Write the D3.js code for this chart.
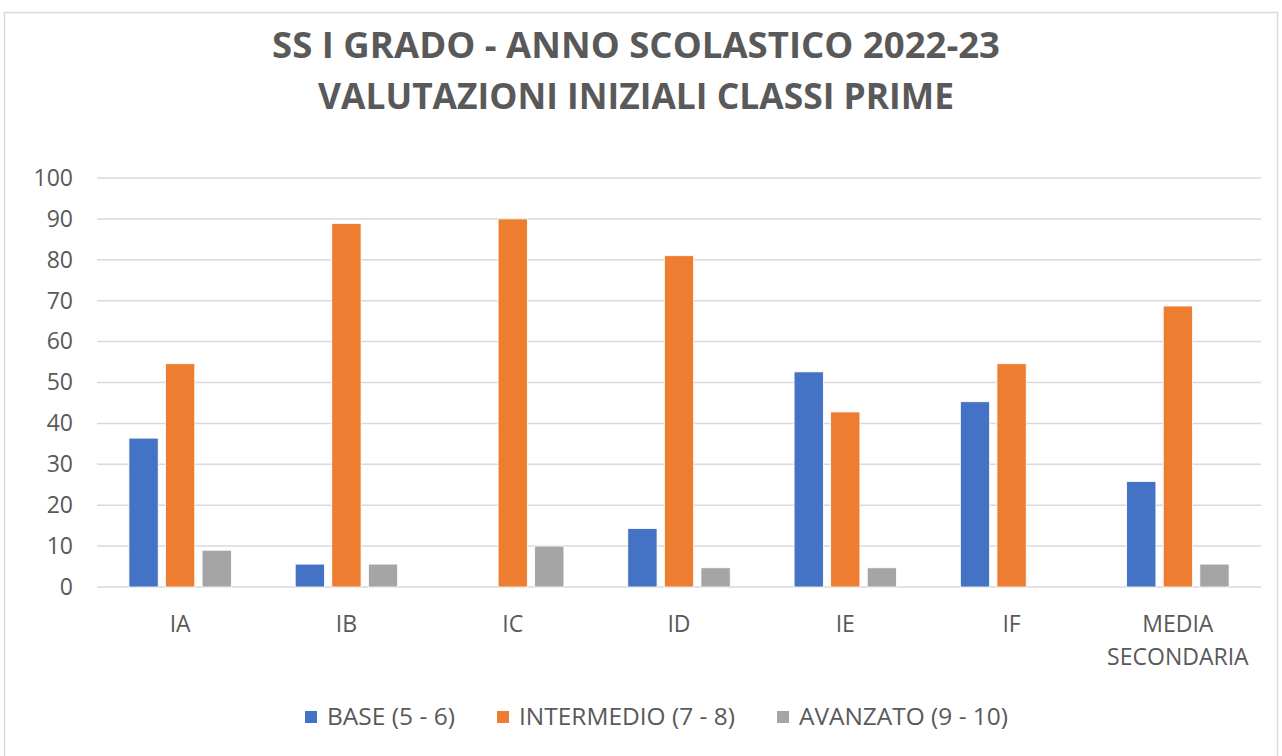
<!DOCTYPE html>
<html>
<head>
<meta charset="utf-8">
<script src="https://cdnjs.cloudflare.com/ajax/libs/d3/7.8.5/d3.min.js"></script>
<style>
  body { margin: 0; background: #fff; }
  svg text { font-family: "Open Sans", "Noto Sans", sans-serif; fill: #595959; }
</style>
</head>
<body>
<div id="chart"></div>
<script>
var categories = ['IA', 'IB', 'IC', 'ID', 'IE', 'IF', 'MEDIA SECONDARIA'];
var seriesNames = ['BASE (5 - 6)', 'INTERMEDIO (7 - 8)', 'AVANZATO (9 - 10)'];
var base = [36.4, 5.6, 0, 14.3, 52.6, 45.3, 25.8];
var intermedio = [54.6, 88.9, 90, 81, 42.8, 54.6, 68.7];
var avanzato = [9, 5.6, 10, 4.7, 4.7, 0, 5.6];
var yTicks = [0, 10, 20, 30, 40, 50, 60, 70, 80, 90, 100];
var colors = ['#4472C4', '#ED7D31', '#A5A5A5'];

var W = 1282, H = 756;
var margin = { top: 178, right: 21, bottom: 169, left: 97 },
  width = W - margin.left - margin.right,
  height = H - margin.top - margin.bottom;

var svg = d3.select('#chart')
  .append('svg')
    .attr('width', W)
    .attr('height', H);

// chart frame
svg.append('rect')
  .attr('x', 4.5).attr('y', 12.5)
  .attr('width', 1273).attr('height', 760)
  .attr('fill', '#fff')
  .attr('stroke', '#d9d9d9')
  .attr('stroke-width', 1.5);

// title
var titleLines = ['SS I GRADO - ANNO SCOLASTICO 2022-23', 'VALUTAZIONI INIZIALI CLASSI PRIME'];
var titleWidths = [728, 636];
svg.selectAll('.title')
  .data(titleLines)
  .enter()
  .append('text')
    .attr('class', 'title')
    .attr('x', 636)
    .attr('y', function (d, i) { return 58 + i * 51; })
    .attr('text-anchor', 'middle')
    .attr('textLength', function (d, i) { return titleWidths[i]; })
    .attr('lengthAdjust', 'spacingAndGlyphs')
    .style('font-size', '35px')
    .style('font-weight', 'bold')
    .text(function (d) { return d; });

var g = svg.append('g')
  .attr('transform', 'translate(' + margin.left + ',' + margin.top + ')');

var y = d3.scaleLinear().domain([0, 100]).range([height, 0]);

var x0 = d3.scaleBand().domain(categories).range([0, width])
  .paddingInner(0.384).paddingOuter(0.192);
var x1 = d3.scaleBand().domain(d3.range(3)).range([0, x0.bandwidth()])
  .paddingInner(0.2);

// gridlines
g.append('g')
  .selectAll('line')
  .data(yTicks)
  .enter()
  .append('line')
    .attr('x1', 0).attr('x2', width)
    .attr('y1', function (d) { return y(d); })
    .attr('y2', function (d) { return y(d); })
    .attr('stroke', '#d9d9d9')
    .attr('stroke-width', 1.5);

// y axis labels
var yAxis = g.append('g')
  .call(d3.axisLeft(y).tickValues(yTicks).tickSize(0).tickPadding(24));
yAxis.select('.domain').remove();
yAxis.selectAll('text')
  .style('font-size', '23px')
  .style('font-family', '"Open Sans", sans-serif')
  .attr('fill', '#595959');

// bars
var rows = categories.map(function (c, i) {
  return { cat: c, vals: [base[i], intermedio[i], avanzato[i]] };
});

var groups = g.selectAll('.grp')
  .data(rows)
  .enter()
  .append('g')
    .attr('transform', function (d) { return 'translate(' + x0(d.cat) + ',0)'; });

groups.selectAll('rect')
  .data(function (d) { return d.vals; })
  .enter()
  .append('rect')
    .attr('x', function (d, i) { return x1(i); })
    .attr('width', x1.bandwidth())
    .attr('y', function (d) { return y(d); })
    .attr('height', function (d) { return height - y(d); })
    .attr('fill', function (d, i) { return colors[i]; })
    .attr('stroke', '#fff')
    .attr('stroke-width', function (d) { return d > 0 ? 0.8 : 0; });

// x axis labels
var xAxis = g.append('g')
  .attr('transform', 'translate(0,' + height + ')')
  .call(d3.axisBottom(x0).tickSize(0).tickPadding(0));
xAxis.select('.domain').remove();
xAxis.selectAll('text')
  .style('font-size', '23px')
  .style('font-family', '"Open Sans", sans-serif')
  .attr('fill', '#595959')
  .attr('dy', null)
  .attr('y', 45)
  .each(function (d) {
    var words = d.split(' ');
    if (words.length > 1) {
      var t = d3.select(this).text(null);
      words.forEach(function (w, i) {
        t.append('tspan').attr('x', 0).attr('dy', i === 0 ? 0 : 33).text(w);
      });
    }
  });

// legend
var legendX = [305, 497, 777];
var legendW = [128, 216, 209];
var legend = svg.selectAll('.leg')
  .data(seriesNames)
  .enter()
  .append('g')
    .attr('transform', function (d, i) { return 'translate(' + legendX[i] + ',711)'; });
legend.append('rect')
  .attr('width', 12).attr('height', 12)
  .attr('fill', function (d, i) { return colors[i]; });
legend.append('text')
  .attr('x', 22).attr('y', 14)
  .attr('textLength', function (d, i) { return legendW[i]; })
  .attr('lengthAdjust', 'spacingAndGlyphs')
  .style('font-size', '23px')
  .text(function (d) { return d; });
</script>
</body>
</html>
